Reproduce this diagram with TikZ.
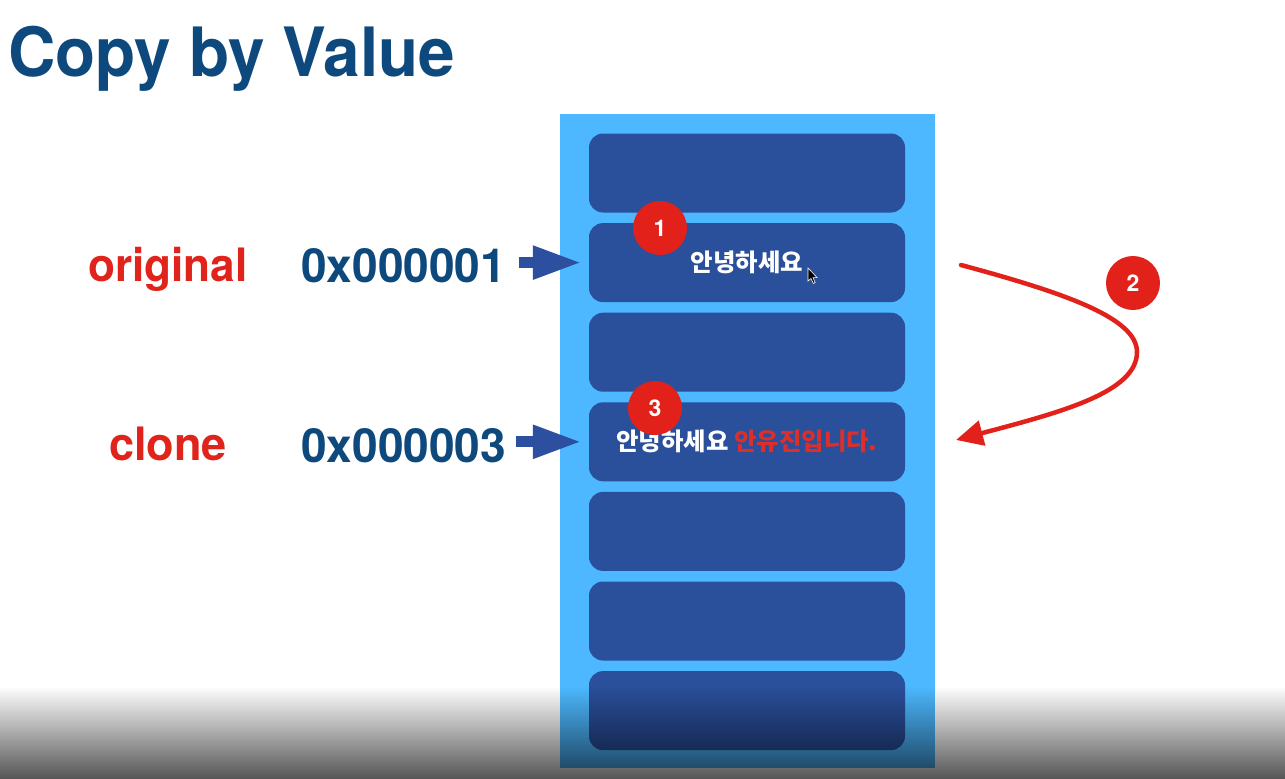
\documentclass[tikz,border=0pt]{standalone}
\usepackage{fontspec}
\setmainfont{TeX Gyre Heros}
\newfontfamily\krfont{Noto Sans CJK KR}
\usetikzlibrary{arrows.meta}

\definecolor{navy}{HTML}{0D497D}
\definecolor{labelred}{HTML}{E0241B}
\definecolor{badgered}{HTML}{E2221A}
\definecolor{memblue}{HTML}{4DB8FF}
\definecolor{cellblue}{HTML}{2A4F9B}
\definecolor{pointerblue}{HTML}{2C4FA0}
\definecolor{krred}{HTML}{DC2F2A}
\definecolor{shadegray}{HTML}{555555}

% slightly condensed headline lettering
\newcommand{\condensed}[2][0.95]{\scalebox{#1}[1]{#2}}

\begin{document}
\begin{tikzpicture}[x=1pt,y=-1pt,
  cell/.style={fill=cellblue, rounded corners=14pt, minimum width=316pt,
    minimum height=79pt, inner sep=0pt, text=white,
    font=\krfont\bfseries\fontsize{24.4}{28}\selectfont},
  varname/.style={text=labelred, anchor=base west, inner sep=0pt,
    font=\bfseries\fontsize{46}{50}\selectfont},
  address/.style={text=navy, anchor=base west, inner sep=0pt,
    font=\bfseries\fontsize{47}{50}\selectfont},
  badge/.style={circle, fill=badgered, minimum size=54pt, inner sep=0pt,
    text=white, font=\bfseries\fontsize{23}{26}\selectfont},
  pointer/.style={pointerblue, line width=11pt,
    -{Triangle[length=49pt,width=31pt]}},
  flow/.style={badgered, line width=4.5pt, line cap=round,
    -{Triangle[length=27pt,width=25pt]}},
]
\useasboundingbox (0,0) rectangle (1285,779);
\fill[white] (0,0) rectangle (1285,779);

% heading
\node[anchor=base west, inner sep=0pt, text=navy,
  font=\bfseries\fontsize{68}{72}\selectfont] (title) at (8,76)
  {\condensed[0.965]{Copy by Value}};

% memory column
\node[fill=memblue, minimum width=375pt, minimum height=654pt, inner sep=0pt]
  (mem) at (747.5,441) {};
\node[cell] (c1) at (747,173.0) {};
\node[cell] (c2) at (747,262.6) {안녕하세요};
\node[cell] (c3) at (747,352.2) {};
\node[cell] (c4) at (747,441.8) {안녕하세요 \textcolor{krred}{안유진입니다.}};
\node[cell] (c5) at (747,531.4) {};
\node[cell] (c6) at (747,621.0) {};
\node[cell] (c7) at (747,710.6) {};

% variable names and their addresses
\node[varname] (orig) at (88,281) {\condensed[0.96]{original}};
\node[varname] (clone) at (109,460) {\condensed[0.98]{clone}};
\node[address] (addr1) at (301,282) {\condensed[0.98]{0x000001}};
\node[address] (addr3) at (301,462) {\condensed[0.98]{0x000003}};

% references into memory
\draw[pointer, shorten <=13pt, shorten >=7pt] (c2.west -| addr1.east) -- (c2.west);
\draw[pointer, shorten <=10pt, shorten >=7pt] (c4.west -| addr3.east) -- (c4.west);

% copy step
\coordinate (copyfrom) at (961,265);
\coordinate (copyturn) at (1137,352);
\coordinate (copyto) at (956,440);
\draw[flow] (copyfrom) .. controls (1065,293) and (1137,318) .. (copyturn)
  .. controls (1137,392) and (1062,412) .. (copyto);

% step badges
\node[badge] (b1) at (660,228) {1};
\node[badge] (b2) at (1133,283) {2};
\node[badge] (b3) at (655,408) {3};

% mouse pointer
\filldraw[fill=black, draw=white, line width=0.6pt]
  (808,268) -- (808,281) -- (811,278.5) -- (813.3,283.5) -- (815.2,282.6)
  -- (813,277.7) -- (817,277.5) -- cycle;

% darkening band along the lower edge
\begin{scope}[blend mode=multiply]
  \shade[top color=white, bottom color=shadegray] (0,686) rectangle (1285,779);
\end{scope}
\end{tikzpicture}
\end{document}
